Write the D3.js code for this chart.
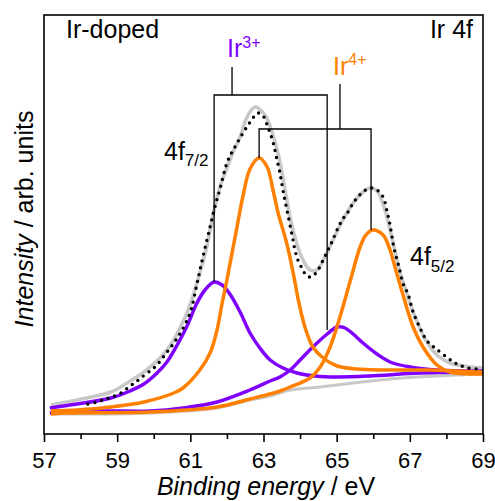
<!DOCTYPE html>
<html><head><meta charset="utf-8">
<script src="https://cdn.jsdelivr.net/npm/d3@7"></script>
<style>
html,body{margin:0;padding:0;background:#fff;}
svg{display:block;font-family:"Liberation Sans",Arial,Helvetica,sans-serif;}
</style>
</head><body>
<svg id="chart" width="495" height="501"></svg>
<script>
// ---------- data (binding energy in eV, intensity in arb. units) ----------
const majorTicks = [57, 59, 61, 63, 65, 67, 69];
const minorTicks = [58, 60, 62, 64, 66, 68];
const tickLabels = ["57", "59", "61", "63", "65", "67", "69"];

// measured spectrum (dotted)
const dataE = [58.20,58.45,58.69,58.86,59.10,59.32,59.51,59.68,59.93,60.09,60.28,60.47,60.66,60.85,61.02,61.18,61.35,61.54,61.67,61.81,62.00,62.14,62.28,62.44,62.58,62.71,62.85,62.99,63.12,63.26,63.37,63.45,63.53,63.64,63.78,63.86,63.94,64.05,64.16,64.27,64.38,64.49,64.63,64.76,64.87,65.01,65.15,65.31,65.45,65.58,65.72,65.91,66.10,66.27,66.38,66.46,66.54,66.62,66.71,66.81,66.95,67.09,67.28,67.47,67.69,68.04,68.29,68.59,68.92];
const dataI = [30,32,35,37,41,47,52,57,64,69,78,87,97,109,124,150,178,207,227,245,271,282,291,301,309,316,321,318,307,292,274,261,244,224,199,184,174,166,159,157,159,164,174,184,192,204,214,222,231,237,242,246,244,237,222,209,191,178,166,151,140,122,106,93,86,76,70,66,65];

// fit envelope (grey)
const envE = [57.19,57.90,58.83,59.27,59.73,60.17,60.44,60.72,60.99,61.26,61.46,61.62,61.81,62.00,62.17,62.36,62.55,62.77,63.04,63.26,63.45,63.59,63.73,63.92,64.08,64.27,64.46,64.68,64.90,65.17,65.45,65.72,65.91,66.10,66.32,66.46,66.60,66.73,66.87,67.01,67.20,67.42,67.74,68.10,68.65,69.00];
const envI = [29,34,42,51,62,76,88,106,129,161,189,219,247,266,282,297,317,327,319,299,272,244,216,189,174,164,164,177,194,214,231,242,246,243,224,204,182,162,146,130,112,95,79,71,67,66];

// background (grey)
const bgE = [57.19,59.90,61.73,62.63,63.18,63.73,64.55,65.45,66.19,66.81,67.74,69.00];
const bgI = [20,21,26,34,38,44,47,51,54,56,58,60];

// Ir3+ components (purple)
const ir3aE = [57.16,57.90,58.83,59.35,59.73,60.09,60.36,60.64,60.91,61.18,61.40,61.65,61.87,62.08,62.36,62.63,62.90,63.18,63.53,63.92,64.41,65.01,65.91,67.28,69.00];
const ir3aI = [26,30,36,43,50,61,72,89,108,131,144,152,149,140,122,101,86,74,66,61,58,57,58,61,62];
const ir3bE = [57.16,58.45,59.90,60.80,61.73,62.63,63.18,63.45,63.73,64.00,64.35,64.74,65.01,65.23,65.45,65.72,66.10,66.46,67.01,67.74,69.00];
const ir3bI = [21,23,23,26,32,44,53,57,64,74,87,100,107,106,100,91,80,72,67,64,63];

// Ir4+ components (orange)
const ir4aE = [57.19,57.90,58.83,59.73,60.55,60.80,61.26,61.54,61.73,61.87,62.00,62.28,62.44,62.63,62.88,63.10,63.26,63.40,63.64,63.86,63.94,64.14,64.35,64.63,65.01,65.56,66.19,67.47,69.00];
const ir4aI = [23,24,27,32,41,46,64,81,104,131,154,208,238,265,276,267,244,221,190,152,136,106,87,76,68,65,64,64,62];
const ir4bE = [57.19,57.52,59.90,61.73,62.63,63.18,63.45,63.73,64.27,64.55,64.82,65.09,65.37,65.64,65.80,65.99,66.27,66.46,66.60,66.79,67.09,67.36,67.74,68.10,68.65,69.00];
const ir4bI = [20,21,22,27,35,40,43,47,56,67,87,117,153,187,199,204,199,184,166,142,107,87,69,62,60,60];

// doublet bracket annotations (eV / intensity)
const bracketNames = ["Ir3+", "Ir4+"];
const bracketLeft = [61.65, 62.88];
const bracketRight = [64.74, 65.94];
const bracketStem = [62.14, 65.09];
const bracketBar = [339, 305];
const bracketTop = [367, 350];
const bracketLeftEnd = [152, 276];
const bracketRightEnd = [104, 204];

// ---------- drawing ----------
const M = {left: 44, right: 483, top: 15, bottom: 434};
const svg = d3.select("#chart");
const x = d3.scaleLinear().domain([57, 69]).range([M.left, M.right]);
const y = d3.scaleLinear().domain([0, 419]).range([M.bottom, M.top]);

const ORANGE = "#ff8000", PURPLE = "#8000ff", GREY = "#c8c8c8";

const line = d3.line().x(d => x(d[0])).y(d => y(d[1])).curve(d3.curveCatmullRom.alpha(0.5));
const zip = (a, b) => a.map((v, i) => [v, b[i]]);

svg.append("defs").append("clipPath").attr("id", "clip")
  .append("rect").attr("x", M.left).attr("y", M.top)
  .attr("width", M.right - M.left).attr("height", M.bottom - M.top);
const g = svg.append("g").attr("clip-path", "url(#clip)");

g.append("path").attr("d", line(zip(bgE, bgI)))
  .attr("fill", "none").attr("stroke", GREY).attr("stroke-width", 3);
g.append("path").attr("d", line(zip(envE, envI)))
  .attr("fill", "none").attr("stroke", GREY).attr("stroke-width", 3.6);

[[ir3aE, ir3aI, PURPLE], [ir3bE, ir3bI, PURPLE], [ir4aE, ir4aI, ORANGE], [ir4bE, ir4bI, ORANGE]]
  .forEach(([e, i, c]) => {
    g.append("path").attr("d", line(zip(e, i)))
      .attr("fill", "none").attr("stroke", c).attr("stroke-width", 3.5)
      .attr("stroke-linejoin", "round");
  });

g.append("path").attr("d", line(zip(dataE, dataI)))
  .attr("fill", "none").attr("stroke", "#000").attr("stroke-width", 3.4)
  .attr("stroke-linecap", "round").attr("stroke-dasharray", "0,7");

// brackets
const bk = svg.append("g").attr("stroke", "#000").attr("stroke-width", 1.3).attr("fill", "none");
bracketNames.forEach((n, k) => {
  const p = d3.path();
  p.moveTo(x(bracketLeft[k]), y(bracketLeftEnd[k]));
  p.lineTo(x(bracketLeft[k]), y(bracketBar[k]));
  p.lineTo(x(bracketRight[k]), y(bracketBar[k]));
  p.lineTo(x(bracketRight[k]), y(bracketRightEnd[k]));
  p.moveTo(x(bracketStem[k]), y(bracketBar[k]));
  p.lineTo(x(bracketStem[k]), y(bracketTop[k]));
  bk.append("path").attr("d", p.toString());
});

// frame
svg.append("rect").attr("x", M.left).attr("y", M.top)
  .attr("width", M.right - M.left).attr("height", M.bottom - M.top)
  .attr("fill", "none").attr("stroke", "#000").attr("stroke-width", 1.6);

// axes
const axMaj = d3.axisBottom(x).tickValues(majorTicks).tickSize(8).tickPadding(10)
  .tickFormat((d, i) => tickLabels[i]);
const axMin = d3.axisBottom(x).tickValues(minorTicks).tickSize(5).tickFormat("");
const ga = svg.append("g").attr("transform", `translate(0,${M.bottom})`).call(axMaj);
const gm = svg.append("g").attr("transform", `translate(0,${M.bottom})`).call(axMin);
[ga, gm].forEach(a => {
  a.select(".domain").remove();
  a.selectAll(".tick line").attr("stroke", "#000").attr("stroke-width", 1.6);
});
ga.selectAll(".tick text").attr("fill", "#000").attr("font-size", 22)
  .attr("font-family", '"Liberation Sans",Arial,sans-serif');

// axis titles
const xt = svg.append("text").attr("x", 266).attr("y", 495)
  .attr("text-anchor", "middle").attr("font-size", 25).attr("fill", "#000");
xt.append("tspan").attr("font-style", "italic").text("Binding energy");
xt.append("tspan").text(" / eV");

const yt = svg.append("text").attr("transform", "translate(33,219) rotate(-90)")
  .attr("text-anchor", "middle").attr("font-size", 25).attr("fill", "#000");
yt.append("tspan").attr("font-style", "italic").text("Intensity");
yt.append("tspan").text(" / arb. units");

// corner labels
svg.append("text").attr("x", 66).attr("y", 38).attr("font-size", 25).attr("fill", "#000").text("Ir-doped");
svg.append("text").attr("x", 473).attr("y", 38).attr("text-anchor", "end").attr("font-size", 25).attr("fill", "#000").text("Ir 4f");

// species labels
const t3 = svg.append("text").attr("x", 227).attr("y", 57).attr("font-size", 25).attr("fill", PURPLE);
t3.append("tspan").text("Ir");
t3.append("tspan").attr("font-size", 16).attr("dy", -9).text("3+");
const t4 = svg.append("text").attr("x", 333).attr("y", 75).attr("font-size", 25).attr("fill", ORANGE);
t4.append("tspan").text("Ir");
t4.append("tspan").attr("font-size", 16).attr("dy", -10).text("4+");

// spin-orbit labels
const s1 = svg.append("text").attr("x", 164).attr("y", 160).attr("font-size", 25).attr("fill", "#000");
s1.append("tspan").text("4f");
s1.append("tspan").attr("font-size", 17).attr("dy", 6).text("7/2");
const s2 = svg.append("text").attr("x", 410).attr("y", 265).attr("font-size", 25).attr("fill", "#000");
s2.append("tspan").text("4f");
s2.append("tspan").attr("font-size", 17).attr("dy", 7).text("5/2");
</script>
</body></html>
